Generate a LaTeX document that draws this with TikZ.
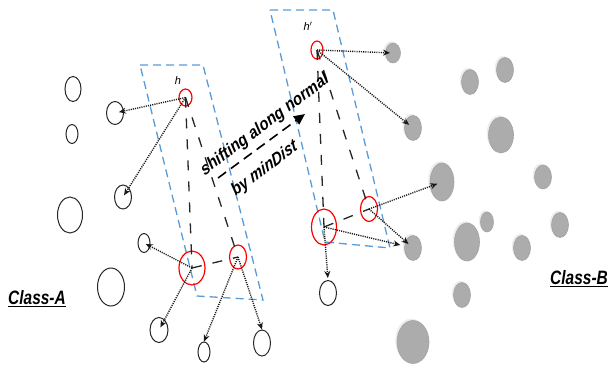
\documentclass[tikz,border=0pt]{standalone}
\usepackage{fontspec}
\usepackage{graphicx}
\setmainfont{Liberation Sans}
\usetikzlibrary{shapes.geometric,arrows.meta,shadows}
\definecolor{planeblue}{HTML}{5B9BD5}
\tikzset{
  sz/.style 2 args={minimum width=#1pt, minimum height=#2pt},
  bcirc/.style={ellipse, draw=black!85, line width=1pt, fill=white, inner sep=0pt},
  gcirc/.style={ellipse, fill=gray!65, draw=gray!72, line width=0.6pt, inner sep=0pt,
    drop shadow={shadow xshift=-1.8pt, shadow yshift=1.8pt, fill=black!7, opacity=1}},
  rcirc/.style={ellipse, draw=red, line width=1.2pt, inner sep=0pt},
  plane/.style={draw=planeblue, line width=1.3pt, dash pattern=on 8pt off 5pt},
  tri/.style={draw=black!85, line width=1.3pt, dash pattern=on 10pt off 11pt},
  darr/.style={draw=black!90, line width=1.4pt, dash pattern=on 1.1pt off 1.1pt,
    -{Stealth[length=7pt,width=6pt]}},
  lbl/.style={font=\itshape\fontsize{11}{13}\selectfont},
  cls/.style={font=\bfseries\itshape\fontsize{15.5}{18}\selectfont},
  shtxt/.style={font=\bfseries\fontsize{14.2}{16}\selectfont, inner sep=0pt},
}
\begin{document}
\begin{tikzpicture}[x=1pt,y=-1pt]
\useasboundingbox (0,0) rectangle (610,367);
% planes
\draw[plane] (140,65) -- (203,65) -- (263,300) -- (197,296) -- cycle;
\draw[plane] (270,10) -- (333,10) -- (390,248) -- (325,242) -- cycle;
% class A circles
\node[bcirc, sz={16}{25}] (a1) at (73,89) {};
\node[bcirc, sz={12}{19}] (a2) at (72,134) {};
\node[bcirc, sz={17}{23}] (a3) at (115,113) {};
\node[bcirc, sz={17}{24}] (a4) at (123,197) {};
\node[bcirc, sz={25}{36}] (a5) at (70,215) {};
\node[bcirc, sz={12}{19}] (a6) at (144,243) {};
\node[bcirc, sz={27}{38}] (a7) at (111,287) {};
\node[bcirc, sz={18}{25}] (a8) at (159,330) {};
\node[bcirc, sz={12}{20}] (a9) at (204,352) {};
\node[bcirc, sz={17}{26}] (a10) at (262,343) {};
\node[bcirc, sz={17}{25}] (a11) at (328,293) {};
% class B circles
\node[gcirc, sz={15}{20}] (b1) at (393,53) {};
\node[gcirc, sz={17}{25}] (b2) at (470,82) {};
\node[gcirc, sz={17}{25}] (b3) at (505,70) {};
\node[gcirc, sz={17}{25}] (b4) at (413,128) {};
\node[gcirc, sz={25}{36}] (b5) at (501,135) {};
\node[gcirc, sz={24}{38}] (b6) at (442,182) {};
\node[gcirc, sz={17}{24}] (b7) at (543,177) {};
\node[gcirc, sz={13}{20}] (b8) at (487,222) {};
\node[gcirc, sz={25}{38}] (b9) at (467,242) {};
\node[gcirc, sz={17}{25}] (b10) at (560,225) {};
\node[gcirc, sz={17}{25}] (b11) at (522,248) {};
\node[gcirc, sz={17}{25}] (b12) at (413,248) {};
\node[gcirc, sz={17}{25}] (b13) at (462,295) {};
\node[gcirc, sz={32}{43}] (b14) at (413,342) {};
% red circles
\node[rcirc, sz={13}{17}] (h) at (185.5,97.5) {};
\node[rcirc, sz={26}{34}] (c1) at (192,268) {};
\node[rcirc, sz={17}{24}] (c2) at (238,257) {};
\node[rcirc, sz={12}{18}] (hp) at (317,50) {};
\node[rcirc, sz={25}{36}] (d1) at (324,227) {};
\node[rcirc, sz={17}{25}] (d2) at (369,209) {};
% labels
\node[lbl] (hl) at (178,81) {h};
\node[lbl] (hpl) at (308,26) {h$'$};
\node[cls] (ca) at (37,299) {\scalebox{1}[1.25]{\underline{Class-A}}};
\node[cls] (cb) at (579,279) {\scalebox{1}[1.25]{\underline{Class-B}}};
% triangles
\draw[tri] (h.center) -- (c1.center);
\draw[tri] (h.center) -- (c2.center);
\draw[tri] (c1.center) -- (c2.center);
\draw[tri] (hp.center) -- (d1.center);
\draw[tri] (hp.center) -- (d2.center);
\draw[tri] (d1.center) -- (d2.center);
% dotted arrows
\draw[darr, shorten >=4pt] (h.center) -- (a3.center);
\draw[darr, shorten >=2pt] (h.center) -- (a4.center);
\draw[darr, shorten >=2pt] (c1.center) -- (a6.center);
\draw[darr, shorten >=3pt] (c1.center) -- (a8.center);
\draw[darr] (c2.center) -- (a9.north);
\draw[darr] (c2.center) -- (a10.north);
\draw[darr, shorten >=3pt] (hp.center) -- (b1.center);
\draw[darr, shorten >=5pt] (hp.center) -- (b4.center);
\draw[darr, shorten >=5pt] (d2.center) -- (b6.center);
\draw[darr, shorten >=6pt] (d2.center) -- (b12.center);
\draw[darr, shorten >=13pt] (d1.center) -- (b12.center);
\draw[darr, shorten >=2pt] (d1.center) -- (a11.north);
% shift arrow
\coordinate (s0) at (218,178);
\coordinate (s1) at (305,114);
\draw[draw=black, line width=1.6pt, dash pattern=on 10pt off 6pt,
  -{Triangle[length=11pt,width=10pt]}] (s0) -- (s1);
\begin{scope}[shift={(265,125)}, yscale=1.3, transform shape]
  \node[shtxt, rotate=30] (t1) {shifting along normal};
\end{scope}
\begin{scope}[shift={(265,169)}, yscale=1.3, transform shape]
  \node[shtxt, rotate=30] (t2) {by \textit{minDist}};
\end{scope}
\end{tikzpicture}
\end{document}
